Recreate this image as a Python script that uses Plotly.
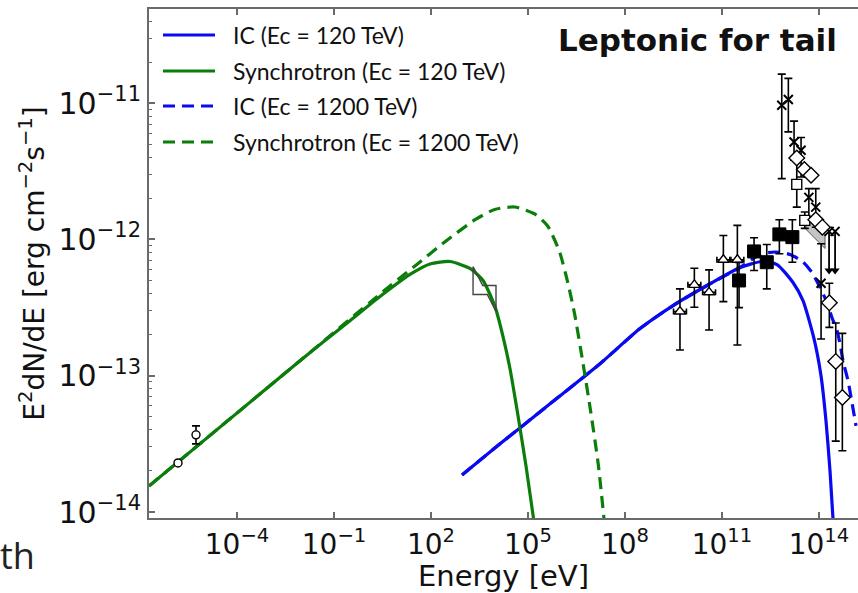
import numpy as np
import plotly.graph_objects as go

# ---------------------------------------------------------------
# Values are given as log10 of energy (eV) and log10 of E^2 dN/dE
# (erg cm^-2 s^-1).
# ---------------------------------------------------------------

# Model curves
sync120_lx = [-6.722, -2.052, -0.505, 0.423, 1.351, 1.969, 2.588, 3.206, 3.608,
              3.979, 4.227, 4.443, 4.691, 4.938, 5.173]
sync120_ly = [-13.809, -12.890, -12.596, -12.419, -12.257, -12.180, -12.162, -12.213,
              -12.301, -12.493, -12.713, -12.949, -13.294, -13.662, -14.051]

sync1200_lx = [-6.722, -2.052, 0.423, 1.495, 2.423, 3.351, 3.969, 4.588, 5.206,
               5.608, 5.979, 6.227, 6.443, 6.691, 6.938, 7.173, 7.351]
sync1200_ly = [-13.809, -12.890, -12.401, -12.196, -12.019, -11.857, -11.780, -11.762,
               -11.813, -11.901, -12.093, -12.313, -12.549, -12.894, -13.262, -13.651,
               -14.051]

ic120_lx = [2.959, 4.134, 5.681, 7.227, 8.464, 9.485, 10.536, 11.557, 12.237,
            12.701, 13.196, 13.505, 13.845, 14.062, 14.216, 14.340, 14.433]
ic120_ly = [-13.728, -13.500, -13.206, -12.912, -12.654, -12.485, -12.338, -12.206,
            -12.162, -12.184, -12.316, -12.449, -12.728, -13.000, -13.331, -13.699, -14.051]

ic1200_lx = [2.959, 4.134, 5.681, 7.227, 8.464, 9.485, 10.536, 11.557, 12.175,
             12.639, 13.103, 13.505, 13.784, 14.031, 14.247, 14.402, 14.557, 14.649,
             14.742, 14.897, 15.021, 15.144]
ic1200_ly = [-13.728, -13.500, -13.206, -12.912, -12.654, -12.485, -12.338, -12.206,
             -12.110, -12.092, -12.110, -12.165, -12.243, -12.353, -12.463, -12.574,
             -12.669, -12.765, -12.890, -13.037, -13.199, -13.368]

# Radio points (open circles)
radio_lx = [-5.825, -5.268]
radio_ly = [-13.640, -13.434]
radio_hi = [-13.640, -13.368]
radio_lo = [-13.640, -13.500]

# X-ray butterfly
xray_lx = [3.300, 3.598, 4.010, 4.010, 3.740, 3.300, 3.300]
xray_ly = [-12.199, -12.338, -12.338, -12.529, -12.404, -12.404, -12.199]

# GeV points (open triangles)
tri_lx = [9.700, 10.145, 10.600, 11.042, 11.475]
tri_ly = [-12.529, -12.333, -12.388, -12.149, -12.149]
tri_hi = [-12.363, -12.211, -12.223, -11.971, -11.897]
tri_lo = [-12.811, -12.498, -12.664, -12.456, -12.774]
tri_dx = 0.2

# Filled squares
fsq_lx = [11.527, 11.991, 12.384, 12.774, 13.176]
fsq_ly = [-12.301, -12.088, -12.167, -11.963, -11.983]
fsq_hi = [-12.169, -11.988, -12.037, -11.855, -11.855]
fsq_lo = [-12.500, -12.228, -12.363, -12.105, -12.167]

# Crosses
crs_lx = [12.848, 13.052, 13.228, 13.445, 13.686, 13.900, 14.064]
crs_ly = [-11.015, -10.973, -11.285, -11.346, -11.691, -11.763, -12.321]
crs_hi = [-10.787, -10.818, -11.132, -11.252, -11.627, -11.627, -12.032]
crs_lo = [-11.554, -11.211, -11.419, -11.542, -11.836, -11.910, -12.730]

# Upper limits
ul_lx = [14.311, 14.497]
ul_ly = [-11.941, -11.941]
ul_end = [-12.228, -12.228]

# Open diamonds
dia_lx = [13.312, 13.547, 13.754, 13.900, 14.104, 14.320, 14.518, 14.722]
dia_ly = [-11.402, -11.487, -11.529, -11.855, -11.910, -12.465, -12.895, -13.160]
dia_hi = [-11.402, -11.487, -11.529, -11.855, -11.910, -12.321, -12.613, -12.689]
dia_lo = [-11.402, -11.487, -11.529, -11.855, -11.910, -12.645, -13.480, -13.550]

# Open squares
osq_lx = [13.312, 13.560]
osq_ly = [-11.596, -11.860]
osq_hi = [-11.419, -11.799]
osq_lo = [-11.763, -11.919]

# Shaded TeV butterfly
tev_lx = [13.598, 14.186, 14.186, 13.598, 13.598]
tev_ly = [-11.830, -11.963, -12.066, -11.926, -11.830]

# Axis ticks
x_tick_exp = [-4, -1, 2, 5, 8, 11, 14]
y_tick_exp = [-14, -13, -12, -11]

X_RANGE = [-6.722, 15.206]
Y_RANGE = [-14.044, -10.309]


def p(v):
    return 10.0 ** np.asarray(v, dtype=float)


def yerr(ly, hi, lo):
    y = p(ly)
    return dict(type="data", symmetric=False, array=p(hi) - y, arrayminus=y - p(lo),
                color="black", thickness=1.6, width=4)


BLUE = "#0a0af0"
GREEN = "#0b7d0b"
DASH = "12px,7px"

fig = go.Figure()

# model curves
fig.add_trace(go.Scatter(x=p(ic120_lx), y=p(ic120_ly), mode="lines",
                         line=dict(color=BLUE, width=3.2, shape="spline", smoothing=0.6)))
fig.add_trace(go.Scatter(x=p(sync120_lx), y=p(sync120_ly), mode="lines",
                         line=dict(color=GREEN, width=3.2, shape="spline", smoothing=0.6)))
fig.add_trace(go.Scatter(x=p(ic1200_lx), y=p(ic1200_ly), mode="lines",
                         line=dict(color=BLUE, width=3.2, dash=DASH,
                                   shape="spline", smoothing=0.6)))
fig.add_trace(go.Scatter(x=p(sync1200_lx), y=p(sync1200_ly), mode="lines",
                         line=dict(color=GREEN, width=3.2, dash=DASH,
                                   shape="spline", smoothing=0.6)))

# butterflies
fig.add_trace(go.Scatter(x=p(xray_lx), y=p(xray_ly), mode="lines",
                         line=dict(color="#444444", width=1.4)))
fig.add_trace(go.Scatter(x=p(tev_lx), y=p(tev_ly), mode="lines", fill="toself",
                         fillcolor="#c4c4c4", line=dict(color="#555555", width=1)))

# data points
fig.add_trace(go.Scatter(x=p(radio_lx), y=p(radio_ly), mode="markers",
                         error_y=yerr(radio_ly, radio_hi, radio_lo),
                         marker=dict(symbol="circle", size=8, color="white",
                                     line=dict(color="black", width=1.4))))

tx = p(tri_lx)
fig.add_trace(go.Scatter(x=tx, y=p(tri_ly), mode="markers",
                         error_y=yerr(tri_ly, tri_hi, tri_lo),
                         error_x=dict(type="data", symmetric=False,
                                      array=tx * (10 ** tri_dx - 1),
                                      arrayminus=tx * (1 - 10 ** -tri_dx),
                                      color="black", thickness=1.6, width=3),
                         marker=dict(symbol="triangle-up", size=10, color="white",
                                     line=dict(color="black", width=1.4))))

fig.add_trace(go.Scatter(x=p(fsq_lx), y=p(fsq_ly), mode="markers",
                         error_y=yerr(fsq_ly, fsq_hi, fsq_lo),
                         marker=dict(symbol="square", size=13, color="black",
                                     line=dict(color="black", width=1))))

for lx, ly, le in zip(ul_lx, ul_ly, ul_end):
    fig.add_trace(go.Scatter(x=p([lx, lx]), y=p([ly, le]), mode="lines",
                             line=dict(color="black", width=1.8)))
    fig.add_trace(go.Scatter(x=p([lx]), y=p([le]), mode="markers",
                             marker=dict(symbol="triangle-down", size=8, color="black")))

fig.add_trace(go.Scatter(x=p(ul_lx), y=p(ul_ly), mode="markers",
                         marker=dict(symbol="x-thin", size=9,
                                     line=dict(color="black", width=2))))

fig.add_trace(go.Scatter(x=p(crs_lx), y=p(crs_ly), mode="markers",
                         error_y=yerr(crs_ly, crs_hi, crs_lo),
                         marker=dict(symbol="x-thin", size=9,
                                     line=dict(color="black", width=2))))

fig.add_trace(go.Scatter(x=p(osq_lx), y=p(osq_ly), mode="markers",
                         error_y=yerr(osq_ly, osq_hi, osq_lo),
                         marker=dict(symbol="square", size=10, color="white",
                                     line=dict(color="black", width=1.4))))

fig.add_trace(go.Scatter(x=p(dia_lx), y=p(dia_ly), mode="markers",
                         error_y=yerr(dia_ly, dia_hi, dia_lo),
                         marker=dict(symbol="diamond", size=12, color="white",
                                     line=dict(color="black", width=1.4))))

AXIS_GREY = "#6a6a6a"


def sup(e):
    return "10<sup>%s</sup>" % str(e).replace("-", "\u2212")


minor_y = [k * 10.0 ** n for n in range(-15, -9) for k in range(2, 10)]

fig.update_layout(
    width=858, height=593,
    margin=dict(l=149, r=0, t=9, b=75),
    paper_bgcolor="white", plot_bgcolor="white",
    showlegend=False,
    xaxis=dict(
        type="log", range=X_RANGE, showgrid=False, zeroline=False,
        showline=True, linecolor=AXIS_GREY, linewidth=2, mirror="ticks",
        ticks="inside", ticklen=6, tickwidth=1.5, tickcolor=AXIS_GREY,
        tickvals=[10.0 ** e for e in x_tick_exp],
        ticktext=[sup(e) for e in x_tick_exp],
        tickfont=dict(family="DejaVu Sans", size=28, color="#111111"),
        title=dict(text="Energy [eV]", standoff=7,
                   font=dict(family="DejaVu Sans", size=29, color="#111111")),
    ),
    yaxis=dict(
        type="log", range=Y_RANGE, showgrid=False, zeroline=False,
        showline=True, linecolor=AXIS_GREY, linewidth=2, mirror=False,
        ticks="inside", ticklen=6, tickwidth=1.5, tickcolor=AXIS_GREY,
        tickvals=[10.0 ** e for e in y_tick_exp],
        ticktext=[sup(e) for e in y_tick_exp],
        tickfont=dict(family="DejaVu Sans", size=30, color="#111111"),
        minor=dict(ticks="inside", ticklen=3, tickwidth=1, tickcolor=AXIS_GREY,
                   tickvals=minor_y, showgrid=False),
        title=dict(text="E<sup>2</sup>dN/dE [erg cm<sup>\u22122</sup>s<sup>\u22121</sup>]",
                   standoff=6,
                   font=dict(family="DejaVu Sans", size=28, color="#111111")),
    ),
)

# Legend drawn as line samples and labels inside the axes
legend_items = [
    ("IC (Ec = 120 TeV)", BLUE, "solid"),
    ("Synchrotron (Ec = 120 TeV)", GREEN, "solid"),
    ("IC (Ec = 1200 TeV)", BLUE, DASH),
    ("Synchrotron (Ec = 1200 TeV)", GREEN, DASH),
]
W, H = 709.0, 509.0
row_px = [35, 71, 106, 142]
for (label, col, dash), ry in zip(legend_items, row_px):
    yp = (518 - ry) / H
    fig.add_shape(type="line", xref="paper", yref="paper",
                  x0=(163 - 149) / W, x1=(215 - 149) / W, y0=yp, y1=yp,
                  line=dict(color=col, width=3.2, dash=dash))
    fig.add_annotation(xref="paper", yref="paper", x=(231 - 149) / W, y=yp,
                       xanchor="left", yanchor="middle", showarrow=False,
                       text=label, font=dict(family="Lato", size=23, color="#111111"))

fig.add_annotation(xref="paper", yref="paper", x=(839 - 149) / W, y=(518 - 40) / H,
                   xanchor="right", yanchor="middle", showarrow=False,
                   text="<b>Leptonic for tail</b>",
                   font=dict(family="DejaVu Sans", size=31, color="#111111"))

fig.add_annotation(xref="paper", yref="paper", x=(-2 - 149) / W, y=(518 - 555) / H,
                   xanchor="left", yanchor="middle", showarrow=False,
                   text="th", font=dict(family="Open Sans", size=36, color="#222222"))

fig.write_html("out.html")
